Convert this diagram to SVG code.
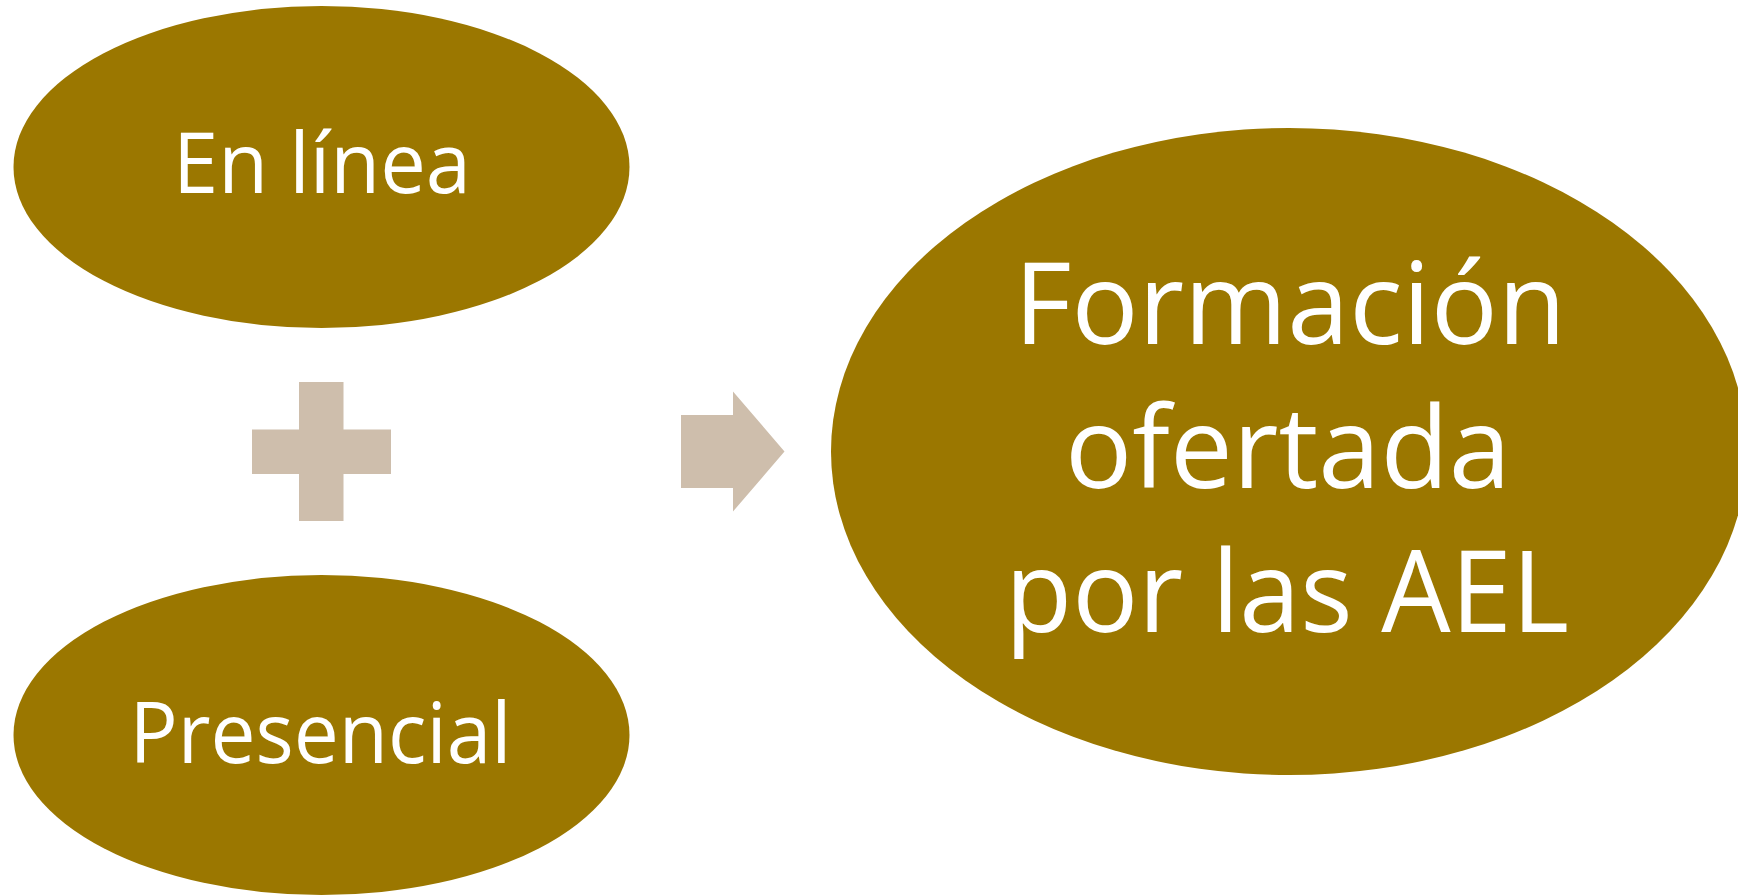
<svg xmlns="http://www.w3.org/2000/svg" width="1738" height="895" viewBox="0 0 1738 895">
<style>
.node{fill:#9B7700;}
.sym{fill:#CEBEAC;}
.lbl{fill:#FFFFFF;font-family:"Open Sans","Noto Sans","Liberation Sans",sans-serif;text-anchor:middle;}
.s1{font-size:84px;}
.s2{font-size:113px;}
</style>
<rect width="1738" height="895" fill="#FFFFFF"/>
<g id="node-en-linea">
<ellipse class="node" cx="321.5" cy="167" rx="308" ry="161"/>
<text class="lbl s1" x="322" y="193" textLength="298" lengthAdjust="spacingAndGlyphs">En línea</text>
</g>
<g id="node-presencial">
<ellipse class="node" cx="321.5" cy="735" rx="308" ry="160"/>
<text class="lbl s1" x="320.5" y="763" textLength="382" lengthAdjust="spacingAndGlyphs">Presencial</text>
</g>
<g id="node-formacion">
<ellipse class="node" cx="1289" cy="451.5" rx="458" ry="323.5"/>
<text class="lbl s2" x="1290" y="344" textLength="552" lengthAdjust="spacingAndGlyphs">Formación</text>
<text class="lbl s2" x="1288" y="488" textLength="446" lengthAdjust="spacingAndGlyphs">ofertada</text>
<text class="lbl s2" x="1287" y="632" textLength="564" lengthAdjust="spacingAndGlyphs">por las AEL</text>
</g>
<g id="connectors">
<path id="plus" class="sym" d="M299,382 H343.5 V429.5 H391 V474 H343.5 V521 H299 V474 H252 V429.5 H299 Z"/>
<path id="arrow" class="sym" d="M681,415 H733 V391.5 L784.5,451.5 L733,511.5 V488 H681 Z"/>
</g>
</svg>
